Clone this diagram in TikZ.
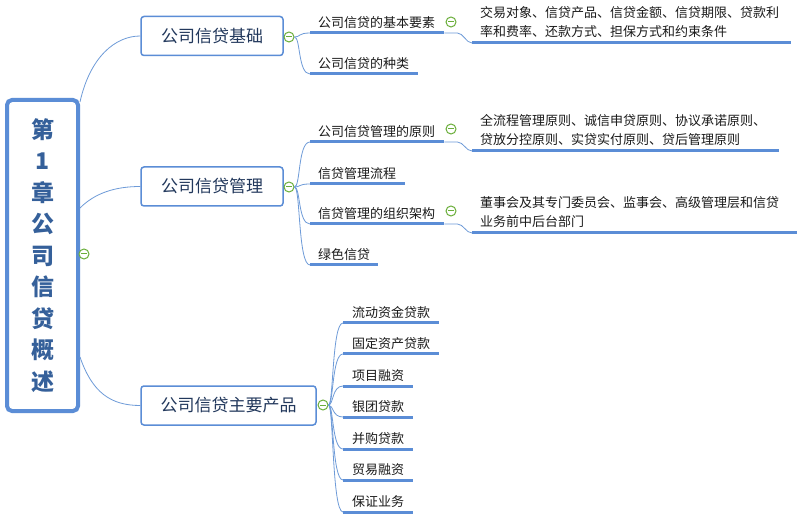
\documentclass[tikz,border=0pt]{standalone}
\usepackage{fontspec}
\newfontfamily\cjk{Noto Sans CJK SC}
\usetikzlibrary{calc}
\definecolor{lineblue}{HTML}{5B8DD6}
\definecolor{connblue}{HTML}{6E9BD8}
\definecolor{mmgreen}{HTML}{6AAE3A}
\definecolor{navy}{HTML}{22385C}
\definecolor{rootblue}{HTML}{35609A}
\definecolor{leaftext}{HTML}{1A1A1A}
\tikzset{
  rootbox/.style={draw=lineblue, line width=4pt, rounded corners=5pt, fill=white,
    minimum width=71pt, minimum height=311pt, align=center, text=rootblue,
    font=\cjk\bfseries\fontsize{23}{31.5}\selectfont},
  l1box/.style={draw=lineblue, line width=1.5pt, rounded corners=3pt, fill=white,
    minimum height=39pt, text=navy, font=\cjk\fontsize{17}{20}\selectfont},
  leaf/.style={anchor=south west, inner xsep=8pt, inner ysep=4.5pt, align=left,
    text=leaftext, font=\cjk\fontsize{13}{18.5}\selectfont},
  leafp/.style={leaf, inner xsep=9pt},
  leafd/.style={leaf, inner ysep=5.5pt},
  uline/.style={draw=lineblue, line width=3pt},
  conn/.style={draw=connblue, line width=0.8pt},
  collapse/.style={circle, draw=mmgreen, line width=1pt, minimum size=10pt, inner sep=0pt, fill=white,
    path picture={\draw[mmgreen, line width=1pt] ([xshift=-3pt]path picture bounding box.center) -- ([xshift=3pt]path picture bounding box.center);}},
}
\begin{document}
\begin{tikzpicture}[x=1pt,y=-1pt]
\useasboundingbox (0,0) rectangle (798,521);
\fill[white] (0,0) rectangle (798,521);

% root
\node[rootbox] (root) at (42.5,255.5) {第\\1\\章\\公\\司\\信\\贷\\概\\述};

% level 1
\node[l1box, minimum width=142pt] (A) at (212,36) {公司信贷基础};
\node[l1box, minimum width=142pt] (B) at (212,186.5) {公司信贷管理};
\node[l1box, minimum width=175pt] (C) at (228.5,405.5) {公司信贷主要产品};

% level 2
\node[leaf, text width=118pt] (a1) at (310,33) {公司信贷的基本要素};
\node[leaf, text width=92pt] (a2) at (310,74) {公司信贷的种类};
\node[leaf, text width=118pt] (b1) at (310,142) {公司信贷管理的原则};
\node[leaf, text width=79pt] (b2) at (310,184) {信贷管理流程};
\node[leaf, text width=118pt] (b3) at (310,224) {信贷管理的组织架构};
\node[leaf, text width=52pt] (b4) at (310,265) {绿色信贷};
\node[leafp, text width=78pt] (c1) at (343,323) {流动资金贷款};
\node[leafp, text width=78pt] (c2) at (343,354) {固定资产贷款};
\node[leafp, text width=52pt] (c3) at (343,386) {项目融资};
\node[leafp, text width=52pt] (c4) at (343,417) {银团贷款};
\node[leafp, text width=52pt] (c5) at (343,449) {并购贷款};
\node[leafp, text width=52pt] (c6) at (343,480) {贸易融资};
\node[leafp, text width=52pt] (c7) at (343,512) {保证业务};

% level 3
\node[leafd, text width=303pt] (d1) at (472,43) {交易对象、信贷产品、信贷金额、信贷期限、贷款利\\率和费率、还款方式、担保方式和约束条件};
\node[leafd, text width=291pt] (d2) at (472,151) {全流程管理原则、诚信申贷原则、协议承诺原则、\\贷放分控原则、实贷实付原则、贷后管理原则};
\node[leafd, text width=309pt] (d3) at (472,233) {董事会及其专门委员会、监事会、高级管理层和信贷\\业务前中后台部门};

% underlines
\foreach \n in {a1,a2,b1,b2,b3,b4,c1,c2,c3,c4,c5,c6,c7,d1,d2,d3}
  \draw[uline] (\n.south west) -- (\n.south east);

% collapse markers
\node[collapse] (cr) at (84,254) {};
\node[collapse] (cA) at (289,37) {};
\node[collapse] (cB) at (289,187) {};
\node[collapse] (cC) at (323,405) {};
\node[collapse] (ca1) at (451,22) {};
\node[collapse] (cb1) at (451,129) {};
\node[collapse] (cb3) at (451,211) {};

% root connectors
\draw[conn] ([yshift=153.5pt]root.east) .. controls +(10,-45) and +(-25,0) .. (A.west);
\draw[conn] ([yshift=47.5pt]root.east) .. controls +(15,-15) and +(-25,0) .. (B.west);
\draw[conn] ([yshift=-101.5pt]root.east) .. controls +(12,35) and +(-30,0) .. (C.west);

% level1 -> level2
\foreach \n in {a1,a2}
  \draw[conn] (cA.east) .. controls +(6,0) and +(-12,0) .. (\n.south west);
\foreach \n in {b1,b2,b3,b4}
  \draw[conn] (cB.east) .. controls +(6,0) and +(-12,0) .. (\n.south west);
\foreach \n in {c1,c2,c3,c4,c5,c6,c7}
  \draw[conn] (cC.east) .. controls +(5,0) and +(-11,0) .. (\n.south west);

% level2 -> level3
\draw[conn] (a1.south east) -- ++(13,0) .. controls +(6,0) and +(-6,0) .. (d1.south west);
\draw[conn] (b1.south east) -- ++(13,0) .. controls +(6,0) and +(-6,0) .. (d2.south west);
\draw[conn] (b3.south east) -- ++(13,0) .. controls +(6,0) and +(-6,0) .. (d3.south west);
\end{tikzpicture}
\end{document}
